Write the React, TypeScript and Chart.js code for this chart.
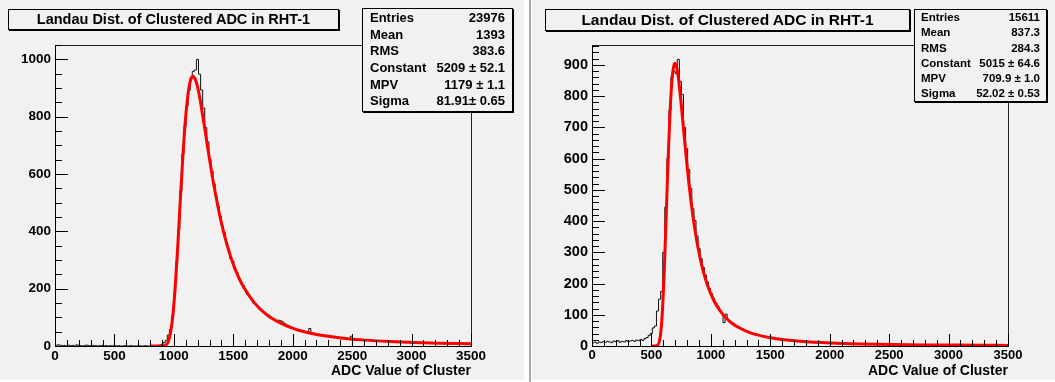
import React, { useEffect, useRef } from "react";
import { Chart, registerables } from "chart.js";

Chart.register(...registerables);

// Histogram binning (ADC value of cluster)
const ADC_MIN = 0;
const ADC_MAX = 3500;
const BIN_WIDTH = 17.5;

const adcTickValues = [0, 500, 1000, 1500, 2000, 2500, 3000, 3500];

// Run A: clustered ADC counts per bin
const countsA = [
  2, 4, 3, 1, 2, 0, 3, 1, 2, 1, 4, 2, 1, 0, 2, 3, 1, 0, 2, 1,
  0, 1, 2, 0, 1, 0, 1, 0, 2, 0, 1, 0, 0, 1, 0, 0, 1, 0, 0, 0,
  1, 0, 0, 1, 0, 0, 1, 0, 1, 2, 3, 6, 12, 20, 38, 58, 105, 180, 290, 405,
  540, 670, 765, 838, 892, 936, 958, 963, 1000, 948, 893, 830, 762, 712, 652, 610, 566, 522, 488, 452,
  418, 395, 362, 338, 305, 296, 268, 257, 236, 222, 212, 198, 180, 176, 166, 150, 146, 139, 128, 125,
  117, 110, 108, 98, 96, 93, 86, 90, 88, 84, 78, 68, 70, 62, 63, 58, 57, 52, 55, 49,
  50, 47, 61, 43, 44, 40, 41, 37, 39, 35, 36, 32, 34, 31, 30, 31, 28, 29, 27, 28,
  25, 25, 34, 22, 24, 23, 21, 22, 19, 21, 20, 18, 20, 17, 19, 18, 16, 18, 15, 17,
  16, 15, 14, 16, 13, 15, 14, 12, 14, 13, 12, 13, 11, 13, 12, 11, 12, 10, 12, 11,
  10, 11, 9, 10, 11, 9, 10, 8, 10, 9, 8, 9, 10, 8, 7, 9, 8, 7, 8, 7,
];

// Run B: clustered ADC counts per bin
const countsB = [
  10, 12, 9, 13, 11, 14, 12, 15, 13, 11, 16, 14, 17, 12, 15, 13, 17, 14, 16, 18,
  15, 19, 17, 21, 18, 24, 27, 34, 40, 58, 64, 112, 150, 175, 300, 445, 600, 755, 862, 880,
  872, 918, 848, 805, 700, 632, 565, 505, 440, 402, 352, 312, 280, 252, 228, 205, 184, 168, 152, 138,
  128, 112, 105, 75, 102, 85, 78, 72, 70, 64, 62, 56, 54, 50, 47, 45, 42, 40, 38, 37,
  34, 33, 31, 30, 28, 29, 25, 24, 23, 22, 21, 20, 19, 18, 18, 17, 16, 16, 15, 14,
  15, 13, 13, 12, 12, 12, 11, 11, 10, 11, 10, 9, 10, 9, 9, 9, 8, 9, 8, 8,
  8, 7, 8, 7, 7, 7, 6, 7, 6, 7, 6, 6, 5, 6, 6, 5, 5, 6, 5, 5,
  5, 4, 5, 5, 4, 5, 4, 4, 5, 4, 4, 4, 3, 4, 4, 3, 4, 3, 4, 3,
  3, 4, 3, 3, 3, 3, 2, 3, 3, 3, 2, 3, 3, 2, 3, 2, 3, 2, 2, 3,
  2, 2, 3, 2, 2, 2, 3, 2, 2, 2, 2, 2, 1, 2, 2, 2, 1, 2, 2, 1,
];

// Landau fit curves (ADC value, fitted counts)
const fitAX = [
  800, 880, 913, 933, 954, 974, 995, 1015, 1036, 1056, 1077, 1097, 1118, 1138, 1159, 1179,
  1200, 1220, 1240, 1261, 1281, 1302, 1322, 1343, 1384, 1425, 1466, 1507, 1548, 1589, 1671,
  1752, 1834, 1916, 1998, 2080, 2162, 2285, 2408, 2612, 2817, 3022, 3227, 3500,
];
const fitAY = [
  0, 0, 0.5, 3.5, 15.9, 50.2, 119.7, 229.1, 370.2, 523.0, 668.8, 788.6, 874.1, 923.7, 940.9, 931.6,
  902.8, 860.7, 810.5, 756.4, 701.2, 647.1, 595.2, 546.5, 459.6, 386.8, 326.7, 277.5, 237.1, 204.0, 154.0,
  119.1, 94.2, 76.1, 62.4, 51.6, 43.9, 34.8, 28.1, 20.5, 15.65, 12.3, 9.87, 7.6,
];

const fitBX = [
  500, 528, 541, 554, 567, 580, 593, 606, 619, 632, 645, 658, 671, 684, 697, 710,
  723, 736, 749, 762, 775, 788, 801, 814, 840, 866, 892, 918, 944, 970, 1022,
  1074, 1126, 1178, 1230, 1334, 1490, 1620, 1750, 2010, 2270, 2531, 2791, 3051, 3311, 3500,
];
const fitBY = [
  0, 0.04, 0.5, 3.4, 15.3, 48.3, 115.2, 220.6, 356.4, 503.6, 643.9, 759.2, 841.5, 889.3, 905.8, 896.9,
  869.2, 828.6, 780.3, 728.2, 675.1, 623.0, 573.1, 526.1, 442.4, 372.4, 314.5, 267.1, 228.3, 196.4, 148.2,
  114.7, 90.7, 73.0, 60.1, 42.2, 27.1, 19.8, 15.07, 9.51, 6.51, 4.73, 3.58, 2.81, 2.25, 1.97,
];

const countTicksA = [0, 200, 400, 600, 800, 1000];
const countTicksB = [0, 100, 200, 300, 400, 500, 600, 700, 800, 900];

const histTitle = "Landau Dist. of Clustered ADC in RHT-1";
const axisTitle = "ADC Value of Cluster";
const statLabels = ["Entries", "Mean", "RMS", "Constant", "MPV", "Sigma"];
const statValuesA = ["23976", "1393", "383.6", "5209 \u00b1 52.1", "1179 \u00b1 1.1", "81.91\u00b1 0.65"];
const statValuesB = ["15611", "837.3", "284.3", "5015 \u00b1 64.6", "709.9 \u00b1 1.0", "52.02 \u00b1 0.53"];

const FONT = "'Liberation Sans', Arial, Helvetica, sans-serif";
const PAD_BG = "#f1f1f1";

type PanelCfg = {
  left: number;
  width: number;
  yAxisWidth: number;
  padRight: number;
  yMax: number;
  yTicks: number[];
  yMinorStep: number;
  counts: number[];
  fitX: number[];
  fitY: number[];
  tickFont: number;
  yTickFont: number;
  titleBox: { left: number; top: number; width: number; height: number; font: number };
  statBox: { left: number; top: number; width: number; height: number; font: number; row: number; padTop: number; padX: number };
  statValues: string[];
};

// ROOT-like frame: inward tick marks plus the top/right frame lines
const frameTicks = {
  id: "frameTicks",
  afterDatasetsDraw(chart: any, _args: any, opts: any) {
    const { ctx, chartArea: a, scales } = chart;
    const xs = scales.x;
    const ys = scales.y;
    const crisp = (v: number) => Math.round(v) + 0.5;
    ctx.save();
    ctx.lineWidth = 1;
    ctx.strokeStyle = "#222";
    ctx.beginPath();
    ctx.moveTo(crisp(a.left), crisp(a.top));
    ctx.lineTo(crisp(a.right), crisp(a.top));
    ctx.lineTo(crisp(a.right), crisp(a.bottom));
    ctx.stroke();
    ctx.strokeStyle = "#000";
    ctx.beginPath();
    for (let v = ADC_MIN; v <= ADC_MAX + 1e-6; v += 100) {
      const major = Math.abs(v % 500) < 1e-6;
      const px = crisp(xs.getPixelForValue(v));
      ctx.moveTo(px, a.bottom);
      ctx.lineTo(px, a.bottom - (major ? 12 : 6));
    }
    for (let v = 0; v <= opts.yMax + 1e-6; v += opts.yMinorStep) {
      const major = opts.yTicks.includes(v);
      const py = crisp(ys.getPixelForValue(v));
      ctx.moveTo(a.left, py);
      ctx.lineTo(a.left + (major ? 13 : 7), py);
    }
    ctx.stroke();
    ctx.restore();
  },
};

function HistPanel({ cfg }: { cfg: PanelCfg }) {
  const ref = useRef<HTMLCanvasElement | null>(null);

  useEffect(() => {
    if (!ref.current) return;
    const histPoints = cfg.counts.map((c, k) => ({ x: ADC_MIN + k * BIN_WIDTH, y: c }));
    histPoints.push({ x: ADC_MAX, y: cfg.counts[cfg.counts.length - 1] });
    const fitPoints = cfg.fitX.map((x, i) => ({ x, y: cfg.fitY[i] }));

    const chart = new Chart(ref.current, {
      type: "line",
      data: {
        datasets: [
          {
            label: "fit",
            data: fitPoints,
            borderColor: "#ff0000",
            borderWidth: 3,
            pointRadius: 0,
            cubicInterpolationMode: "monotone",
            fill: false,
          },
          {
            label: "hist",
            data: histPoints,
            borderColor: "#111",
            borderWidth: 1,
            pointRadius: 0,
            stepped: true,
            fill: false,
          },
        ],
      },
      options: {
        animation: false,
        responsive: false,
        maintainAspectRatio: false,
        devicePixelRatio: 1,
        events: [],
        layout: { padding: { left: 0, right: cfg.padRight, top: 45, bottom: 0 } },
        plugins: {
          legend: { display: false },
          tooltip: { enabled: false },
          title: { display: false },
          frameTicks: { yMax: cfg.yMax, yTicks: cfg.yTicks, yMinorStep: cfg.yMinorStep },
        } as any,
        scales: {
          x: {
            type: "linear",
            min: ADC_MIN,
            max: ADC_MAX,
            afterFit: (s: any) => {
              s.height = 36;
            },
            afterBuildTicks: (s: any) => {
              s.ticks = adcTickValues.map((v) => ({ value: v }));
            },
            ticks: {
              color: "#000",
              font: { family: FONT, size: cfg.tickFont, weight: "bold" },
              padding: 2,
              maxRotation: 0,
              autoSkip: false,
              callback: (v: any) => String(v),
            },
            grid: { display: true, drawOnChartArea: false, drawTicks: false },
            border: { display: true, color: "#000", width: 1 },
            title: {
              display: true,
              text: axisTitle,
              align: "end",
              color: "#000",
              font: { family: FONT, size: 14, weight: "bold" },
              padding: { top: 0, bottom: 2 },
            },
          },
          y: {
            type: "linear",
            min: 0,
            max: cfg.yMax,
            afterFit: (s: any) => {
              s.width = cfg.yAxisWidth;
            },
            afterBuildTicks: (s: any) => {
              s.ticks = cfg.yTicks.map((v) => ({ value: v }));
            },
            ticks: {
              color: "#000",
              font: { family: FONT, size: cfg.yTickFont, weight: "bold" },
              padding: 4,
              autoSkip: false,
              callback: (v: any) => String(v),
            },
            grid: { display: true, drawOnChartArea: false, drawTicks: false },
            border: { display: true, color: "#000", width: 1 },
          },
        },
      },
      plugins: [frameTicks as any],
    });
    return () => chart.destroy();
  }, [cfg]);

  const tb = cfg.titleBox;
  const sb = cfg.statBox;
  return (
    <div
      style={{
        position: "absolute",
        left: cfg.left,
        top: 0,
        width: cfg.width,
        height: 380,
        background: PAD_BG,
      }}
    >
      <canvas ref={ref} width={cfg.width} height={382} style={{ position: "absolute", left: 0, top: 0 }} />
      <div
        style={{
          position: "absolute",
          left: tb.left,
          top: tb.top,
          width: tb.width,
          height: tb.height,
          boxSizing: "border-box",
          border: "1px solid #000",
          boxShadow: "1px 1px 0 #000",
          background: PAD_BG,
          font: `bold ${tb.font}px ${FONT}`,
          lineHeight: `${tb.height - 2}px`,
          textAlign: "center",
          color: "#000",
          whiteSpace: "nowrap",
        }}
      >
        {histTitle}
      </div>
      <div
        style={{
          position: "absolute",
          left: sb.left,
          top: sb.top,
          width: sb.width,
          height: sb.height,
          boxSizing: "border-box",
          border: "1px solid #000",
          boxShadow: "1px 1px 0 #000",
          background: PAD_BG,
          font: `bold ${sb.font}px ${FONT}`,
          color: "#000",
          paddingTop: sb.padTop,
          paddingLeft: sb.padX,
          paddingRight: sb.padX,
        }}
      >
        {statLabels.map((lab, i) => (
          <div
            key={lab}
            style={{ display: "flex", justifyContent: "space-between", height: sb.row, lineHeight: `${sb.row}px`, whiteSpace: "nowrap" }}
          >
            <span>{lab}</span>
            <span>{cfg.statValues[i]}</span>
          </div>
        ))}
      </div>
    </div>
  );
}

const panelA: PanelCfg = {
  left: 0,
  width: 524,
  yAxisWidth: 55,
  padRight: 53,
  yMax: 1050,
  yTicks: countTicksA,
  yMinorStep: 50,
  counts: countsA,
  fitX: fitAX,
  fitY: fitAY,
  tickFont: 13.5,
  yTickFont: 13.5,
  titleBox: { left: 8, top: 9, width: 331, height: 21, font: 14.5 },
  statBox: { left: 362, top: 8, width: 151, height: 104, font: 13, row: 16.7, padTop: 1, padX: 7 },
  statValues: statValuesA,
};

const panelB: PanelCfg = {
  left: 532,
  width: 523,
  yAxisWidth: 60,
  padRight: 47,
  yMax: 964,
  yTicks: countTicksB,
  yMinorStep: 20,
  counts: countsB,
  fitX: fitBX,
  fitY: fitBY,
  tickFont: 13,
  yTickFont: 14.5,
  titleBox: { left: 13, top: 9, width: 365, height: 22, font: 15.5 },
  statBox: { left: 382, top: 9, width: 133, height: 93, font: 11.5, row: 15.3, padTop: 0, padX: 6 },
  statValues: statValuesB,
};

export default function App() {
  return (
    <div style={{ position: "absolute", left: 0, top: 0, width: 1055, height: 382, background: "#fff", overflow: "hidden" }}>
      <HistPanel cfg={panelA} />
      <div style={{ position: "absolute", left: 529, top: 0, width: 2, height: 382, background: "#a8a8a8" }} />
      <HistPanel cfg={panelB} />
    </div>
  );
}
